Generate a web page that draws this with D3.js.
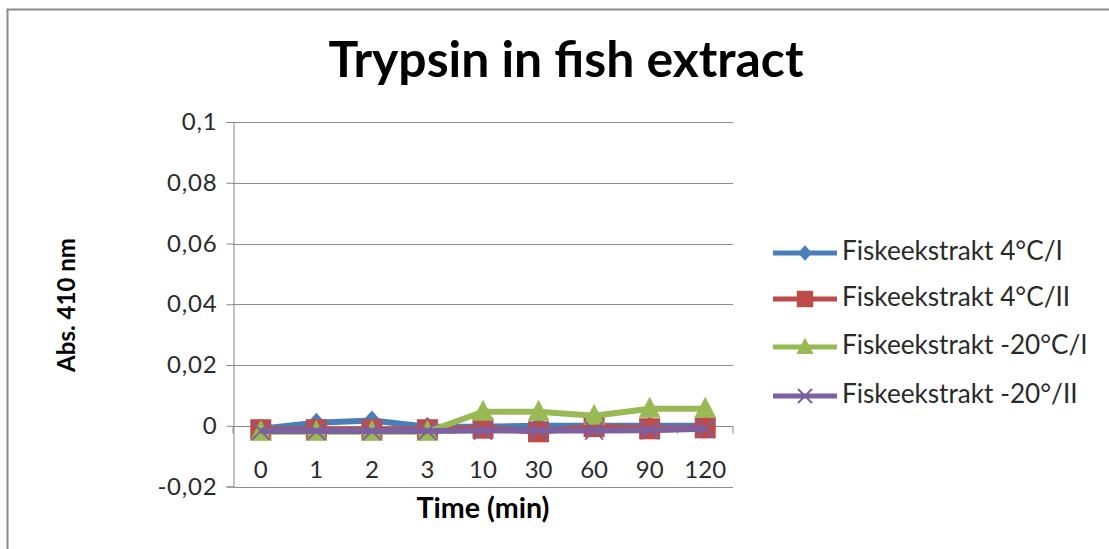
<!DOCTYPE html>
<html><head><meta charset="utf-8">
<script src="https://cdn.jsdelivr.net/npm/d3@7"></script>
<style>html,body{margin:0;padding:0;background:#fff;overflow:hidden}</style>
</head><body>
<svg id="c" width="1109" height="549"></svg>
<script>
const categories = ["0","1","2","3","10","30","60","90","120"];
const seriesNames = ["Fiskeekstrakt 4°C/I","Fiskeekstrakt 4°C/II","Fiskeekstrakt -20°C/I","Fiskeekstrakt -20°/II"];
const s4I   = [-0.001, 0.001, 0.0017, -0.0003, -0.0003, 0, 0, 0, 0];
const s4II  = [-0.0013, -0.0013, -0.0013, -0.0013, -0.0008, -0.002, -0.0003, -0.001, -0.0007];
const s20I  = [-0.002, -0.002, -0.002, -0.002, 0.0046, 0.0046, 0.0033, 0.0056, 0.0056];
const s20II = [-0.0017, -0.0017, -0.0017, -0.0017, -0.0016, -0.0016, -0.0016, -0.0015, -0.001];
const yTicks = [-0.02, 0, 0.02, 0.04, 0.06, 0.08, 0.1];
const yTickLabels = ["-0,02","0","0,02","0,04","0,06","0,08","0,1"];
const colors = ["#4A7EBB","#BE4B48","#98B954","#7D60A0"];
const markers = ["diamond","square","triangle","x"];
const series = [s4I, s4II, s20I, s20II];

const svg = d3.select("#c");
const FONT = "Lato, 'Open Sans', sans-serif";

function fit(t, w){
  const fs = parseFloat(t.attr("font-size"));
  const cw = t.node().getComputedTextLength();
  if (cw > 0) t.attr("font-size", fs * w / cw);
}

// chart border
svg.append("path").attr("d","M7.5,549 V9.5 H1109").attr("fill","none").attr("stroke","#8a8a8a").attr("stroke-width",2);

const x = d3.scaleBand().domain(categories).range([233, 733]);
const y = d3.scaleLinear().domain([-0.02, 0.1]).range([486.5, 122]);

// gridlines
svg.append("g").selectAll("line").data(yTicks.filter(d=>d!==0)).join("line")
  .attr("x1",233).attr("x2",733).attr("y1",d=>Math.round(y(d))+0.5).attr("y2",d=>Math.round(y(d))+0.5)
  .attr("stroke","#8c8c8c").attr("stroke-width",1);

// y axis
const yAxis = svg.append("g").attr("transform","translate(233.5,0)")
  .call(d3.axisLeft(y).tickValues(yTicks).tickSize(7).tickPadding(9)
    .tickFormat((d,i) => yTickLabels[i]));
yAxis.select(".domain").attr("stroke","#868686");
yAxis.selectAll(".tick line").attr("stroke","#868686");
yAxis.selectAll("text").attr("font-family",FONT).attr("font-size",24).attr("letter-spacing","0.8px").attr("fill","#2a2a2a");

// x axis at y=0
const xAxisY = Math.round(y(0))+0.5;
const xg = svg.append("g").attr("transform",`translate(0,${xAxisY})`);
xg.append("line").attr("x1",233).attr("x2",733).attr("stroke","#868686");
xg.selectAll("line.t").data(categories.concat(["end"])).join("line").attr("class","t")
  .attr("x1",(d,i)=> i<categories.length ? x(d) : 733).attr("x2",(d,i)=> i<categories.length ? x(d) : 733)
  .attr("y1",0).attr("y2",7).attr("stroke","#868686");

const xLabels = svg.append("g").selectAll("text").data(categories).join("text")
  .attr("x",d=>x(d)+x.bandwidth()/2).attr("y",478).attr("text-anchor","middle")
  .attr("font-family",FONT).attr("font-size",24).attr("fill","#2a2a2a").text(d=>d);

function drawMarker(g, type, cx, cy, color, s){
  if(type==="diamond"){
    g.append("path").attr("d",`M${cx},${cy-10*s}L${cx+9*s},${cy}L${cx},${cy+10*s}L${cx-9*s},${cy}Z`).attr("fill",color);
  } else if(type==="square"){
    g.append("rect").attr("x",cx-10.5*s).attr("y",cy-10.5*s).attr("width",21*s).attr("height",21*s).attr("fill",color);
  } else if(type==="triangle"){
    g.append("path").attr("d",`M${cx},${cy-12*s}L${cx+11*s},${cy+9*s}L${cx-11*s},${cy+9*s}Z`).attr("fill",color);
  } else {
    g.append("path").attr("d",`M${cx-9*s},${cy-9*s}L${cx+9*s},${cy+9*s}M${cx+9*s},${cy-9*s}L${cx-9*s},${cy+9*s}`)
      .attr("stroke",color).attr("stroke-width",2).attr("fill","none");
  }
}

const line = d3.line().x((d,i)=>x(categories[i])+x.bandwidth()/2).y(d=>y(d));
series.forEach((s,k)=>{
  const g = svg.append("g");
  g.append("path").attr("d",line(s)).attr("fill","none").attr("stroke",colors[k]).attr("stroke-width",6)
    .attr("stroke-linejoin","round");
  s.forEach((v,i)=>drawMarker(g, markers[k], x(categories[i])+x.bandwidth()/2, y(v), colors[k], 1));
});

// titles
const title = svg.append("text").attr("x",566).attr("y",77).attr("text-anchor","middle")
  .attr("font-family",FONT).attr("font-weight","bold").attr("font-size",40).attr("fill","#000")
  .text("Trypsin in fish extract");
fit(title, 475);

const xt = svg.append("text").attr("x",483).attr("y",518).attr("text-anchor","middle")
  .attr("font-family",FONT).attr("font-weight","bold").attr("font-size",19).attr("fill","#000")
  .text("Time (min)");
fit(xt, 133);

const yt = svg.append("text").attr("transform","translate(75,305) rotate(-90)").attr("text-anchor","middle")
  .attr("font-family",FONT).attr("font-weight","bold").attr("font-size",18).attr("fill","#000")
  .text("Abs. 410 nm");
fit(yt, 134);

// legend
const legY = [253, 299, 347, 396];
const lg = svg.append("g");
seriesNames.forEach((n,k)=>{
  lg.append("line").attr("x1",773).attr("x2",837).attr("y1",legY[k]).attr("y2",legY[k])
    .attr("stroke",colors[k]).attr("stroke-width",5);
  drawMarker(lg, markers[k], 805, legY[k], colors[k], 0.78);
  const t = lg.append("text").attr("x",842).attr("y",legY[k]+7).attr("font-family",FONT)
    .attr("font-size",20).attr("fill","#2a2a2a").text(n);
  if(k===0) fit(t, 221);
});
const fs0 = lg.select("text").attr("font-size");
lg.selectAll("text").attr("font-size",fs0);
</script>
</body></html>
